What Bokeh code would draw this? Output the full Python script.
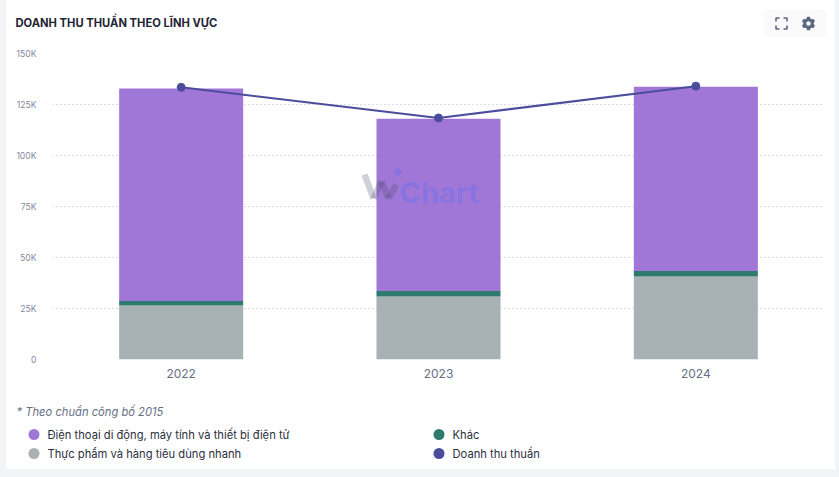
from math import cos, sin, pi, hypot
from bokeh.plotting import figure
from bokeh.layouts import column
from bokeh.embed import file_html
from bokeh.resources import INLINE
from bokeh.core.properties import value
from bokeh.models import ColumnDataSource, FixedTicker, Label, BoxAnnotation, PolyAnnotation

years = ["2022", "2023", "2024"]
food = [26500, 30900, 40700]
other = [2200, 2700, 2700]
devices = [104100, 84400, 90300]
net_revenue = [133400, 118400, 134000]
y_ticks = [0, 25000, 50000, 75000, 100000, 125000, 150000]
y_labels = ["0", "25K", "50K", "75K", "100K", "125K", "150K"]
title_text = "DOANH THU THUẦN THEO LĨNH VỰC"
note_text = "* Theo chuẩn công bố 2015"
legend_names = ["Điện thoại di động, máy tính và thiết bị điện tử", "Thực phẩm và hàng tiêu dùng nhanh",
                "Khác", "Doanh thu thuần"]
legend_colors = ["#A077D6", "#A8B1B3", "#2E7A6F", "#4B4D9C"]
legend_x = [33.5, 33.5, 438.5, 438.5]
legend_y = [434, 453, 434, 453]

FONT = "Inter"
BTN = "#f4f3f3"
ICON = "#5b6780"
MARGIN = (0, 4, 0, 6)


def strip(y0, y1, margin=MARGIN):
    """Figure without axes whose data coordinates are page pixels."""
    f = figure(width=829, height=y1 - y0, x_range=(6, 835), y_range=(y1, y0),
               output_backend="svg", toolbar_location=None, min_border=0, margin=margin,
               frame_align=False)
    f.axis.visible = False
    f.grid.visible = False
    f.outline_line_color = None
    return f


# ---- header
top = strip(0, 47)
top.text([15], [22], text=[title_text], text_font=value(FONT), text_font_size="11.2px",
         text_font_style="bold", text_color="#1f2433", text_baseline="middle")
top.add_layout(BoxAnnotation(left=763, right=826, top=9, bottom=37, fill_color=BTN, line_color=None,
                             border_radius=5, level="underlay"))
cx, cy, s, a = 781, 23, 5.5, 3.5
xs, ys = [], []
for sx in (-1, 1):
    for sy in (-1, 1):
        xs.append([cx + sx * (s - a), cx + sx * s, cx + sx * s])
        ys.append([cy + sy * s, cy + sy * s, cy + sy * (s - a)])
top.multi_line(xs, ys, line_color=ICON, line_width=1.6)
gx, gy = 808, 23
gear_x, gear_y = [], []
for i in range(6):
    base = 2 * pi * i / 6
    for ang, rad in ((-0.42, 5.2), (-0.2, 6.8), (0.2, 6.8), (0.42, 5.2)):
        gear_x.append(gx + rad * sin(base + ang))
        gear_y.append(gy - rad * cos(base + ang))
top.patch(gear_x, gear_y, color=ICON, line_color=None)
top.scatter([gx], [gy], size=4.5, color=BTN, line_color=None)

# ---- chart
p = figure(x_range=years, y_range=(0, 150000), width=829, height=342,
           output_backend="svg", toolbar_location=None, margin=MARGIN, frame_align=False,
           min_border_left=46, min_border_right=11, min_border_top=6, min_border_bottom=30)
p.outline_line_color = None

src = ColumnDataSource(dict(year=years, food=food, other=other, devices=devices, net=net_revenue))
p.vbar_stack(["food", "other", "devices"], x="year", width=0.482, source=src,
             color=["#A8B1B3", "#2E7A6F", "#A077D6"], line_color=None)
p.line("year", "net", source=src, line_color="#4B4D9C", line_width=2)
p.scatter("year", "net", source=src, size=8, color="#4B4D9C")

p.xgrid.visible = False
p.ygrid.grid_line_color = "#b4bdca"
p.ygrid.grid_line_dash = "1 3"
p.ygrid.grid_line_width = 1
p.yaxis.ticker = FixedTicker(ticks=y_ticks)
p.yaxis.major_label_overrides = dict(zip(y_ticks, y_labels))
for ax in (p.xaxis[0], p.yaxis[0]):
    ax.axis_line_color = None
    ax.major_tick_line_color = None
    ax.minor_tick_line_color = None
    ax.major_label_text_font = FONT
p.yaxis.major_label_text_font_size = "8.6px"
p.yaxis.major_label_text_color = "#7f89a0"
p.yaxis.major_label_standoff = 10
p.xaxis.major_label_text_font_size = "12px"
p.xaxis.major_label_text_color = "#667085"
p.xaxis.major_label_standoff = 3

# watermark (frame-relative screen units: origin at the frame's lower left)
FX, FY = 52, 359
wx = [364, 373, 381, 388, 396]
wy = [174, 198, 181, 198, 184]
half = 3.2
for (x0, y0, x1, y1) in zip(wx, wy, wx[1:], wy[1:]):
    L = hypot(x1 - x0, y1 - y0)
    nx, ny = (y1 - y0) / L * half, -(x1 - x0) / L * half
    quad_x = [x0 + nx, x1 + nx, x1 - nx, x0 - nx]
    quad_y = [y0 + ny, y1 + ny, y1 - ny, y0 - ny]
    p.add_layout(PolyAnnotation(xs=[x - FX for x in quad_x], ys=[FY - y for y in quad_y],
                                xs_units="screen", ys_units="screen", fill_color="#4a4a6e",
                                fill_alpha=0.26, line_color=None, level="overlay"))
p.add_layout(BoxAnnotation(left=394 - FX, right=401 - FX, top=FY - 168, bottom=FY - 175,
                           left_units="screen", right_units="screen", top_units="screen",
                           bottom_units="screen", fill_color="#6a70f0", fill_alpha=0.5,
                           line_color=None, border_radius=4, level="overlay"))
p.add_layout(Label(x=399 - FX, y=FY - 192, x_units="screen", y_units="screen", text="Chart",
                   text_font=FONT, text_font_size="29px", text_font_style="bold",
                   text_color="#6a70f0", text_alpha=0.45, text_baseline="middle"))

# ---- footer
bot = strip(389, 469, margin=(0, 4, 8, 6))
bot.text([16], [411], text=[note_text], text_font=value(FONT), text_font_size="11.2px",
         text_font_style="italic", text_color="#667085", text_baseline="middle")
leg = ColumnDataSource(dict(x=legend_x, y=legend_y, tx=[x + 13.5 for x in legend_x],
                            name=legend_names, color=legend_colors))
bot.scatter("x", "y", source=leg, size=11, color="color", line_color=None)
bot.text("tx", "y", text="name", source=leg, text_font=value(FONT), text_font_size="11.2px",
         text_color="#2b3040", text_baseline="middle")

page = column(top, p, bot, spacing=0, width=839,
              styles={"background": "linear-gradient(#fff,#fff) no-repeat 6px 0 / 829px 469px, #f2f4f8"})
open("out.html", "w").write(file_html(page, INLINE))
